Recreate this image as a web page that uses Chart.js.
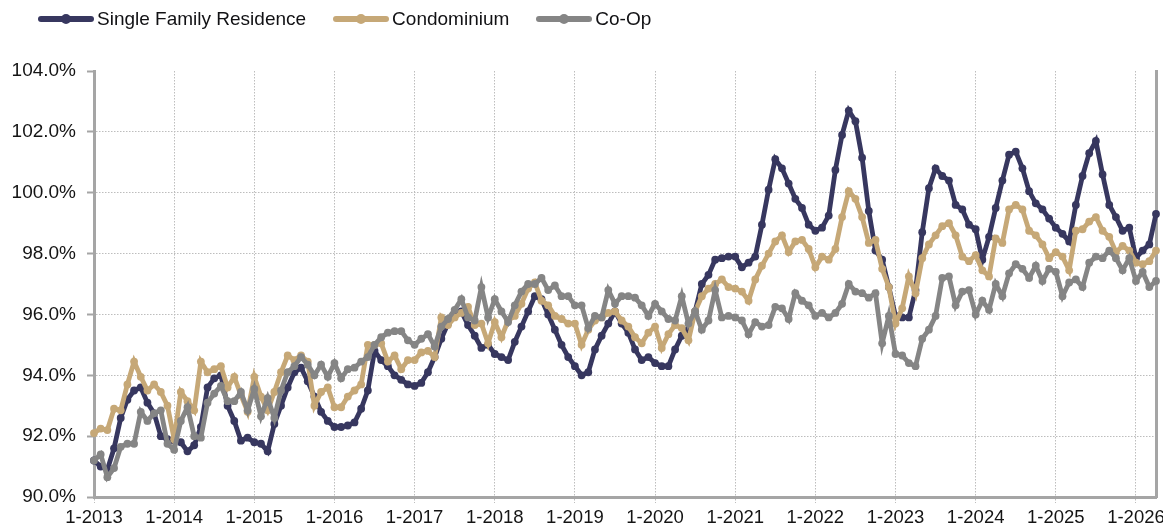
<!DOCTYPE html>
<html>
<head>
<meta charset="utf-8">
<script src="https://cdn.jsdelivr.net/npm/chart.js@4/dist/chart.umd.min.js"></script>
<style>
  html, body { margin: 0; padding: 0; background: #ffffff; }
  #wrap { position: relative; width: 1163px; height: 532px; }
  #legend {
    position: absolute; top: 8px; left: 38px; display: flex; gap: 27px;
    font: 19px "Liberation Sans", Arial, Helvetica, sans-serif; color: #111114;
  }
  .item { display: flex; align-items: center; }
  .swatch { position: relative; width: 56px; height: 6px; border-radius: 3px; margin-right: 3px; }
  .swatch::after {
    content: ''; position: absolute; left: 50%; top: 50%;
    width: 10px; height: 10px; margin: -5px 0 0 -5px; border-radius: 50%; background: inherit;
  }
</style>
</head>
<body>
<div id="wrap">
  <canvas id="chart" width="1163" height="532"></canvas>
  <div id="legend"></div>
</div>
<script>
// Meses 1-2013 .. 4-2026, una etiqueta por mes; solo enero lleva texto en el eje.
const startYear = 2013;
const monthCount = 160;
const months = [];
for (let k = 0; k < monthCount; k++) {
  months.push(`${(k % 12) + 1}-${startYear + Math.floor(k / 12)}`);
}

const yTickValues = [90, 92, 94, 96, 98, 100, 102, 104];

const seriesNames = ['Single Family Residence', 'Condominium', 'Co-Op'];

const singleFamily = [
  91.2, 91.0, 90.9, 91.6, 92.6, 93.2, 93.5, 93.6, 93.1, 92.75, 92.0, 91.9,
  91.85, 91.8, 91.5, 91.7, 92.3, 93.6, 93.9, 94.0, 93.0, 92.5, 91.85, 91.95,
  91.8, 91.75, 91.5, 92.4, 93.0, 93.6, 94.1, 94.25, 93.8, 93.3, 92.8, 92.5,
  92.3, 92.3, 92.35, 92.45, 92.9, 93.5, 94.8, 94.5, 94.3, 94.0, 93.85, 93.7,
  93.65, 93.75, 94.1, 94.6, 95.2, 95.7, 96.0, 96.1, 95.65, 95.3, 94.9, 95.0,
  94.7, 94.6, 94.5, 95.1, 95.6, 96.1, 96.6, 96.5, 96.0, 95.5, 95.0, 94.6,
  94.3, 94.0, 94.1, 94.85, 95.3, 95.7, 96.1, 95.7, 95.4, 94.85, 94.5, 94.6,
  94.4, 94.3, 94.3, 94.85, 95.3, 95.5, 96.1, 97.0, 97.3, 97.8, 97.85, 97.9,
  97.9, 97.55, 97.7, 97.9, 98.95, 100.1, 101.1, 100.8, 100.3, 99.8, 99.5, 98.95,
  98.75, 98.85, 99.25, 100.75, 101.9, 102.7, 102.35, 101.15, 99.4, 98.1, 97.8, 96.9,
  95.95, 95.9, 95.9, 96.8, 98.7, 100.15, 100.8, 100.55, 100.4, 99.6, 99.45, 98.95,
  98.8, 97.8, 98.55, 99.5, 100.4, 101.25, 101.35, 100.8, 100.05, 99.65, 99.45, 99.15,
  98.85, 98.65, 98.4, 99.6, 100.55, 101.3, 101.7, 100.6, 99.6, 99.2, 98.75, 98.85,
  97.85, 98.1, 98.3, 99.3,
];

const condominium = [
  92.1, 92.25, 92.2, 92.9, 92.85, 93.7, 94.45, 93.95, 93.5, 93.7, 93.45, 93.0,
  91.9, 93.45, 93.15, 92.85, 94.45, 94.1, 94.2, 94.3, 93.6, 93.95, 93.35, 92.8,
  93.95, 93.3, 92.85, 93.45, 94.1, 94.65, 94.5, 94.65, 94.45, 93.0, 93.45, 93.6,
  92.95, 92.95, 93.3, 93.5, 93.7, 95.0, 95.0, 95.05, 94.45, 94.65, 94.2, 94.5,
  94.5, 94.75, 94.8, 94.6, 95.9, 95.65, 95.9, 96.05, 96.25, 95.65, 95.7, 95.05,
  95.75, 95.25, 95.8, 95.95, 96.35, 96.85, 97.05, 96.45, 96.3, 95.95, 95.85, 95.7,
  95.7, 95.0, 95.5, 95.8, 95.9, 96.05, 96.1, 95.8, 95.6, 95.25, 95.05, 95.4,
  95.6, 94.9, 95.35, 95.65, 95.55, 95.15, 96.1, 96.6, 96.85, 97.0, 97.15, 96.9,
  96.85, 96.75, 96.45, 97.15, 97.6, 98.0, 98.4, 98.6, 98.05, 98.4, 98.45, 98.15,
  97.55, 97.9, 97.8, 98.15, 99.2, 100.05, 99.8, 99.2, 98.35, 98.45, 97.5, 96.9,
  95.7, 96.2, 97.25, 96.7, 97.85, 98.3, 98.6, 98.9, 99.0, 98.6, 97.9, 97.75,
  97.95, 97.45, 97.25, 98.5, 98.35, 99.45, 99.6, 99.45, 98.75, 98.6, 98.3, 97.85,
  98.05, 97.9, 97.45, 98.75, 98.8, 99.05, 99.2, 98.75, 98.55, 98.05, 98.25, 98.1,
  97.7, 97.65, 97.75, 98.1,
];

const coOp = [
  91.2, 91.4, 90.65, 90.95, 91.65, 91.75, 91.75, 92.8, 92.5, 92.75, 92.85, 91.75,
  91.55, 92.5, 92.95, 92.0, 91.95, 93.1, 93.4, 93.65, 93.15, 93.15, 93.45, 92.85,
  93.55, 92.65, 93.25, 92.6, 93.5, 94.1, 94.3, 94.6, 94.35, 94.0, 94.35, 93.95,
  94.4, 93.9, 94.2, 94.25, 94.45, 94.6, 95.0, 95.25, 95.4, 95.45, 95.45, 95.15,
  95.0, 95.2, 95.35, 94.95, 95.6, 95.85, 96.15, 96.5, 95.9, 95.8, 96.9, 95.9,
  96.5, 96.1, 95.75, 96.3, 96.75, 97.0, 97.0, 97.2, 96.8, 96.95, 96.6, 96.6,
  96.3, 96.3, 95.55, 95.95, 95.9, 96.8, 96.35, 96.6, 96.6, 96.55, 96.3, 95.95,
  96.35, 96.1, 95.85, 95.8, 96.6, 95.7, 96.1, 95.5, 95.8, 96.8, 95.9, 95.95,
  95.9, 95.8, 95.35, 95.75, 95.6, 95.65, 96.25, 96.2, 95.85, 96.7, 96.45, 96.3,
  95.95, 96.05, 95.9, 96.05, 96.35, 97.0, 96.75, 96.7, 96.55, 96.7, 95.05, 95.95,
  94.7, 94.65, 94.4, 94.3, 95.2, 95.5, 95.95, 97.2, 97.25, 96.3, 96.75, 96.8,
  96.0, 96.45, 96.15, 97.0, 96.6, 97.35, 97.65, 97.5, 97.2, 97.6, 97.1, 97.5,
  97.4, 96.6, 97.05, 97.15, 96.9, 97.7, 97.9, 97.85, 98.1, 97.85, 97.45, 97.85,
  97.1, 97.4, 96.9, 97.1,
];

const NAVY = '#37375f';
const GOLD = '#c6a877';
const GRAY = '#858585';
const GRID = '#bdbdbd';
const AXIS = '#a5a5a5';
const TEXT = '#141414';
const FONT_Y = { family: '"Liberation Sans", Arial, Helvetica, sans-serif', size: 19 };
const FONT_X = { family: '"Liberation Sans", Arial, Helvetica, sans-serif', size: 18.5 };

const seriesColors = [NAVY, GOLD, GRAY];

// Leyenda en HTML: línea con punto, como en la imagen original.
const legendEl = document.getElementById('legend');
seriesNames.forEach((name, idx) => {
  const item = document.createElement('div');
  item.className = 'item';
  const sw = document.createElement('span');
  sw.className = 'swatch';
  sw.style.background = seriesColors[idx];
  const txt = document.createElement('span');
  txt.textContent = name;
  item.appendChild(sw);
  item.appendChild(txt);
  legendEl.appendChild(item);
});

function lineDataset(label, data, color, order) {
  return {
    label,
    data,
    borderColor: color,
    backgroundColor: color,
    pointBackgroundColor: color,
    pointBorderWidth: 0,
    pointRadius: 3.9,
    borderWidth: 4.8,
    tension: 0,
    order,
  };
}

new Chart(document.getElementById('chart'), {
  type: 'line',
  data: {
    labels: months,
    datasets: [
      lineDataset(seriesNames[0], singleFamily, NAVY, 2),
      lineDataset(seriesNames[1], condominium, GOLD, 1),
      lineDataset(seriesNames[2], coOp, GRAY, 0),
    ],
  },
  options: {
    responsive: false,
    animation: false,
    layout: { padding: { top: 71, right: 7, left: 0, bottom: 0 } },
    plugins: { legend: { display: false }, tooltip: { enabled: false } },
    scales: {
      x: {
        type: 'category',
        offset: false,
        grid: {
          color: (ctx) => (ctx.index % 12 === 0 ? GRID : 'transparent'),
          tickColor: (ctx) => (ctx.index % 12 === 0 ? GRID : 'transparent'),
          tickLength: 6,
          tickBorderDash: [1.5, 1.5],
        },
        border: { color: AXIS, width: 3, dash: [1.5, 1.5] },
        ticks: {
          autoSkip: false,
          maxRotation: 0,
          minRotation: 0,
          padding: 4,
          color: TEXT,
          font: FONT_X,
          callback: (value, index) => (index % 12 === 0 ? months[index] : ''),
        },
        afterFit: (scale) => { scale.height = 35; },
      },
      y: {
        min: yTickValues[0],
        max: yTickValues[yTickValues.length - 1],
        afterBuildTicks: (scale) => { scale.ticks = yTickValues.map((v) => ({ value: v })); },
        grid: {
          color: (ctx) => (ctx.tick && ctx.tick.value === 104 ? 'transparent' : GRID),
          tickColor: AXIS,
          tickWidth: 2,
          tickLength: 7,
        },
        border: { color: AXIS, width: 3, dash: [1.5, 1.5] },
        ticks: {
          padding: 11,
          color: TEXT,
          font: FONT_Y,
          callback: (v) => `${Number(v).toFixed(1)}%`,
        },
        afterFit: (scale) => { scale.width = 94; },
      },
      yRight: {
        position: 'right',
        display: true,
        min: 90,
        max: 104,
        grid: { drawOnChartArea: false, drawTicks: false, color: 'transparent' },
        border: { color: AXIS, width: 3 },
        ticks: { display: false },
        afterFit: (scale) => { scale.width = 0; },
      },
    },
  },
});
</script>
</body>
</html>
